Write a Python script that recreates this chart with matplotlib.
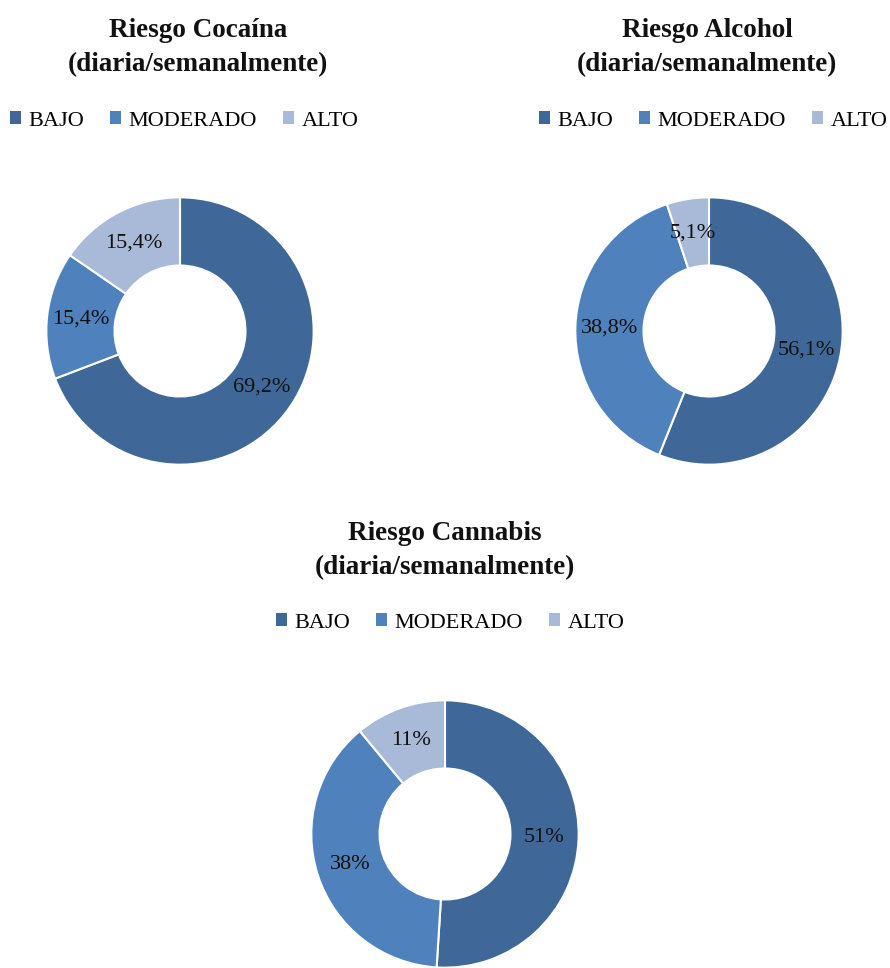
import matplotlib
matplotlib.use("Agg")
import matplotlib.pyplot as plt
from matplotlib.patches import Patch

plt.rcParams['font.family'] = ['Liberation Serif', 'DejaVu Serif']

categories = ["BAJO", "MODERADO", "ALTO"]
titles = ["Riesgo Cocaína\n(diaria/semanalmente)",
          "Riesgo Alcohol\n(diaria/semanalmente)",
          "Riesgo Cannabis\n(diaria/semanalmente)"]
cocaina = [69.2, 15.4, 15.4]
alcohol = [56.1, 38.8, 5.1]
cannabis = [51, 38, 11]
labels_cocaina = ["69,2%", "15,4%", "15,4%"]
labels_alcohol = ["56,1%", "38,8%", "5,1%"]
labels_cannabis = ["51%", "38%", "11%"]
colors = ["#3F6899", "#4F81BD", "#A9B9D8"]

W, H = 890, 968
fig = plt.figure(figsize=(W / 100, H / 100), dpi=100)

R = 135
panels = [
    (cocaina, labels_cocaina, titles[0], (180, 331), 198, 27, 120, 184),
    (alcohol, labels_alcohol, titles[1], (709, 331), 707, 27, 120, 713),
    (cannabis, labels_cannabis, titles[2], (445, 834), 445, 530, 622, 450),
]

for vals, labs, title, (cx, cy), tx, ty, ly, lx in panels:
    ax = fig.add_axes([(cx - R) / W, 1 - (cy + R) / H, 2 * R / W, 2 * R / H])
    wedges, texts = ax.pie(vals, colors=colors, startangle=90, counterclock=False,
                           radius=1.0, wedgeprops=dict(width=0.51, edgecolor="white", linewidth=1.5),
                           labels=labs, labeldistance=0.745,
                           textprops=dict(fontsize=16, ha="center", va="center", color="#111111"))
    for t in texts:
        t.set_ha("center")
        t.set_va("center")
    ax.set_xlim(-1.01, 1.01)
    ax.set_ylim(-1.01, 1.01)
    ax.set_aspect("equal")
    ax.axis("off")
    fig.text(tx / W, 1 - (ty + 20.5) / H, title, ha="center", va="center",
             fontsize=19.5, fontweight="bold", linespacing=1.45, color="#111111")
    handles = [Patch(facecolor=c, edgecolor="none") for c in colors]
    fig.legend(handles, categories, loc="center", bbox_to_anchor=(lx / W, 1 - (ly + 1) / H),
               ncol=3, frameon=False, fontsize=16, handlelength=0.5, handleheight=0.5,
               handletextpad=0.35, columnspacing=1.15, borderpad=0, borderaxespad=0)

fig.savefig("out.png", dpi=100, facecolor="white")
